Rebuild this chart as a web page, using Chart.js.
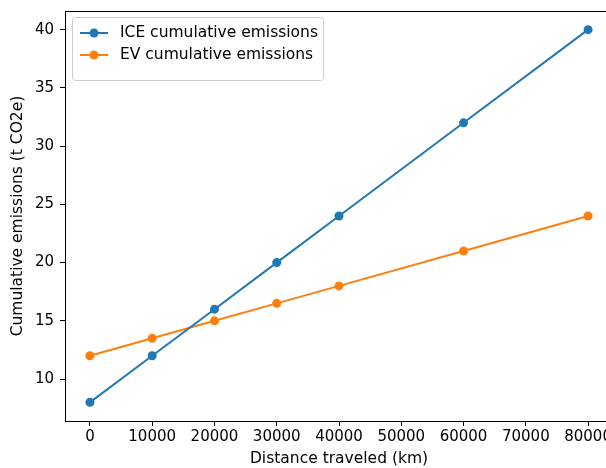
<!DOCTYPE html>
<html>
<head>
<meta charset="utf-8">
<script src="https://cdn.jsdelivr.net/npm/chart.js@4/dist/chart.umd.min.js"></script>
<style>
  html, body { margin: 0; padding: 0; background: #fff; overflow: hidden; }
  #wrap { width: 620px; height: 468px; }
</style>
</head>
<body>
<div id="wrap"><canvas id="chart" width="620" height="468"></canvas></div>
<script>
// Data
const distances = [0, 10000, 20000, 30000, 40000, 60000, 80000];
const iceEmissions = [8, 12, 16, 20, 24, 32, 40];
const evEmissions = [12, 13.5, 15, 16.5, 18, 21, 24];
const xTicks = [0, 10000, 20000, 30000, 40000, 50000, 60000, 70000, 80000];
const yTicks = [10, 15, 20, 25, 30, 35, 40];

const FONT = 'DejaVu Sans';
const BLUE = '#1f77b4';
const ORANGE = '#ff7f0e';

function toPoints(ys) {
    return distances.map((d, i) => ({ x: d, y: ys[i] }));
}

// Top/right spines (Chart.js only draws the axis borders)
const spinePlugin = {
    id: 'spines',
    afterDraw(chart) {
        const { ctx, chartArea: a } = chart;
        ctx.save();
        ctx.strokeStyle = '#000';
        ctx.lineWidth = 1;
        ctx.beginPath();
        ctx.moveTo(a.left, a.top + 0.5);
        ctx.lineTo(a.right, a.top + 0.5);
        ctx.moveTo(a.right - 0.5, a.top);
        ctx.lineTo(a.right - 0.5, a.bottom);
        ctx.stroke();
        ctx.restore();
    }
};

// Matplotlib-like legend inside the plot, upper left
const legendPlugin = {
    id: 'mplLegend',
    afterDraw(chart) {
        const { ctx, chartArea: a } = chart;
        const x = a.left + 7, y = a.top + 6, w = 251, h = 63;
        ctx.save();
        ctx.fillStyle = 'rgba(255,255,255,0.8)';
        ctx.strokeStyle = '#cccccc';
        ctx.lineWidth = 1;
        ctx.beginPath();
        ctx.roundRect(x + 0.5, y + 0.5, w, h, 3);
        ctx.fill();
        ctx.stroke();
        ctx.font = '15.5px "' + FONT + '"';
        ctx.textBaseline = 'middle';
        chart.data.datasets.forEach((ds, i) => {
            const cy = y + 16 + i * 22;
            ctx.strokeStyle = ds.borderColor;
            ctx.lineWidth = 2;
            ctx.beginPath();
            ctx.moveTo(x + 8, cy);
            ctx.lineTo(x + 36, cy);
            ctx.stroke();
            ctx.fillStyle = ds.borderColor;
            ctx.beginPath();
            ctx.arc(x + 22, cy, 4.5, 0, Math.PI * 2);
            ctx.fill();
            ctx.fillStyle = '#000';
            ctx.fillText(ds.label, x + 48, cy);
        });
        ctx.restore();
    }
};

const ctx = document.getElementById('chart').getContext('2d');
new Chart(ctx, {
    type: 'line',
    data: {
        datasets: [
            {
                label: 'ICE cumulative emissions',
                data: toPoints(iceEmissions),
                borderColor: BLUE,
                backgroundColor: BLUE,
                borderWidth: 2,
                pointRadius: 4.5,
                pointBorderWidth: 0,
                tension: 0
            },
            {
                label: 'EV cumulative emissions',
                data: toPoints(evEmissions),
                borderColor: ORANGE,
                backgroundColor: ORANGE,
                borderWidth: 2,
                pointRadius: 4.5,
                pointBorderWidth: 0,
                tension: 0
            }
        ]
    },
    options: {
        responsive: false,
        animation: false,
        events: [],
        layout: { padding: { top: 11, right: 7, left: 0, bottom: 0 } },
        plugins: { legend: { display: false }, tooltip: { enabled: false } },
        scales: {
            x: {
                type: 'linear',
                min: -4000,
                max: 84000,
                afterBuildTicks: (s) => { s.ticks = xTicks.map(v => ({ value: v })); },
                afterFit: (s) => { s.height = 47; },
                grid: { drawOnChartArea: false, tickLength: 5, color: '#000' },
                border: { color: '#000', width: 1 },
                ticks: {
                    color: '#000',
                    font: { family: FONT, size: 15 },
                    padding: 2,
                    maxRotation: 0,
                    autoSkip: false,
                    callback: (v) => String(v)
                },
                title: {
                    display: true,
                    text: 'Distance traveled (km)',
                    color: '#000',
                    font: { family: FONT, size: 15.5 },
                    padding: { top: 2, bottom: 0 }
                }
            },
            y: {
                type: 'linear',
                min: 6.4,
                max: 41.6,
                afterBuildTicks: (s) => { s.ticks = yTicks.map(v => ({ value: v })); },
                afterFit: (s) => {
                    s.width = 65;
                    s.paddingTop = 0;
                    s.paddingBottom = 0;
                },
                grid: { drawOnChartArea: false, tickLength: 5, color: '#000' },
                border: { color: '#000', width: 1 },
                ticks: {
                    color: '#000',
                    font: { family: FONT, size: 15 },
                    padding: 6,
                    callback: (v) => String(v)
                },
                title: {
                    display: true,
                    text: 'Cumulative emissions (t CO2e)',
                    color: '#000',
                    font: { family: FONT, size: 15.5 },
                    padding: { top: 9, bottom: 0 }
                }
            }
        }
    },
    plugins: [spinePlugin, legendPlugin]
});
</script>
</body>
</html>
